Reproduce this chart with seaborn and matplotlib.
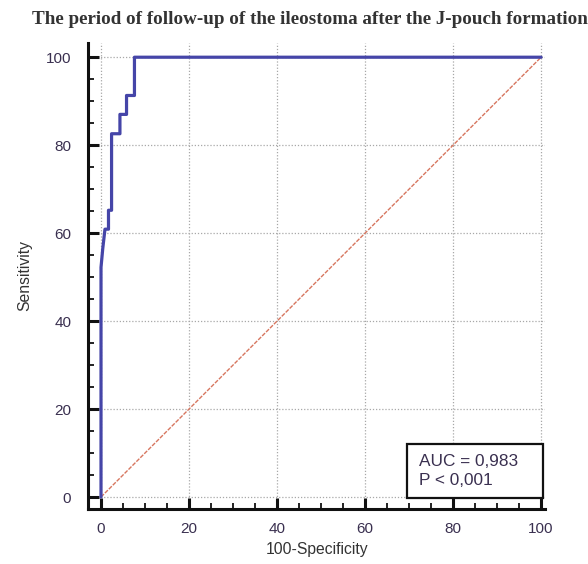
import matplotlib
matplotlib.use("Agg")
import matplotlib.pyplot as plt
import seaborn as sns
import pandas as pd
from matplotlib.ticker import MultipleLocator
from matplotlib.patches import Rectangle

# ROC curve (100-Specificity, Sensitivity)
fpr = [0, 0, 0.4, 0.9, 1.7, 1.7, 2.4, 2.4, 4.3, 4.3, 5.8, 5.8, 7.6, 7.6, 100]
tpr = [0, 52.2, 56.5, 60.9, 60.9, 65.2, 65.2, 82.6, 82.6, 87.0, 87.0, 91.3, 91.3, 100, 100]
diag_x = [0, 100]
diag_y = [0, 100]
ticks = [0, 20, 40, 60, 80, 100]
title = "The period of follow-up of the ileostoma after the J-pouch formation"
auc_lines = ["AUC = 0,983", "P < 0,001"]

sns.set_style("white")
plt.rcParams['font.family'] = ['Liberation Sans', 'DejaVu Sans']

fig = plt.figure(figsize=(5.88, 5.64), dpi=100)
ax = fig.add_axes([0.1497, 0.0975, 0.778, 0.826])

roc = pd.DataFrame({"x": fpr, "y": tpr})
diag = pd.DataFrame({"x": diag_x, "y": diag_y})

sns.lineplot(data=diag, x="x", y="y", ax=ax, color="#d7765f", lw=1.0,
             linestyle=(0, (3, 1.0)), sort=False, estimator=None, zorder=3)
sns.lineplot(data=roc, x="x", y="y", ax=ax, color="#4545a8", lw=2.3,
             sort=False, estimator=None, zorder=4)

ax.set_xlim(-2.95, 101)
ax.set_ylim(-2.73, 103.2)
ax.set_xticks(ticks)
ax.set_yticks(ticks)
ax.xaxis.set_minor_locator(MultipleLocator(5))
ax.yaxis.set_minor_locator(MultipleLocator(5))
ax.grid(True, which="major", linestyle=(0, (1, 1.5)), color="#a8a8a8", lw=0.9)
ax.set_axisbelow(True)

for s in ["top", "right"]:
    ax.spines[s].set_visible(False)
for s in ["left", "bottom"]:
    ax.spines[s].set_color("#111111")
    ax.spines[s].set_linewidth(2.2)

ax.tick_params(axis="x", which="both", bottom=True, top=False)
ax.tick_params(axis="y", which="both", left=True, right=False)
ax.tick_params(which="major", direction="in", length=8, width=2.2, color="#111111",
               labelsize=11, labelcolor="#3a3050")
ax.tick_params(which="minor", direction="in", length=4, width=1.3, color="#111111")
ax.tick_params(axis="x", which="major", pad=9)
ax.tick_params(axis="y", which="major", pad=12)

ax.set_xlabel("100-Specificity", fontsize=11.3, color="#333333")
ax.set_ylabel("Sensitivity", fontsize=11.3, color="#333333")
ax.xaxis.set_label_coords(0.5, -0.071)
ax.yaxis.set_label_coords(-0.122, 0.502)

fig.text(0.527, 0.966, title, ha="center", va="center", fontsize=13.7,
         fontweight="bold", family=["Liberation Serif", "DejaVu Serif"], color="#333333")

ax.add_patch(Rectangle((69.5, -0.2), 31.0, 12.2, facecolor="white",
                       edgecolor="#111111", lw=1.6, zorder=6, clip_on=False))
ax.text(72.3, 8.0, auc_lines[0], ha="left", va="center", fontsize=12.4,
        color="#3a3050", zorder=7)
ax.text(72.3, 3.7, auc_lines[1], ha="left", va="center", fontsize=12.4,
        color="#3a3050", zorder=7)

fig.savefig("out.png", dpi=100, facecolor="white")
